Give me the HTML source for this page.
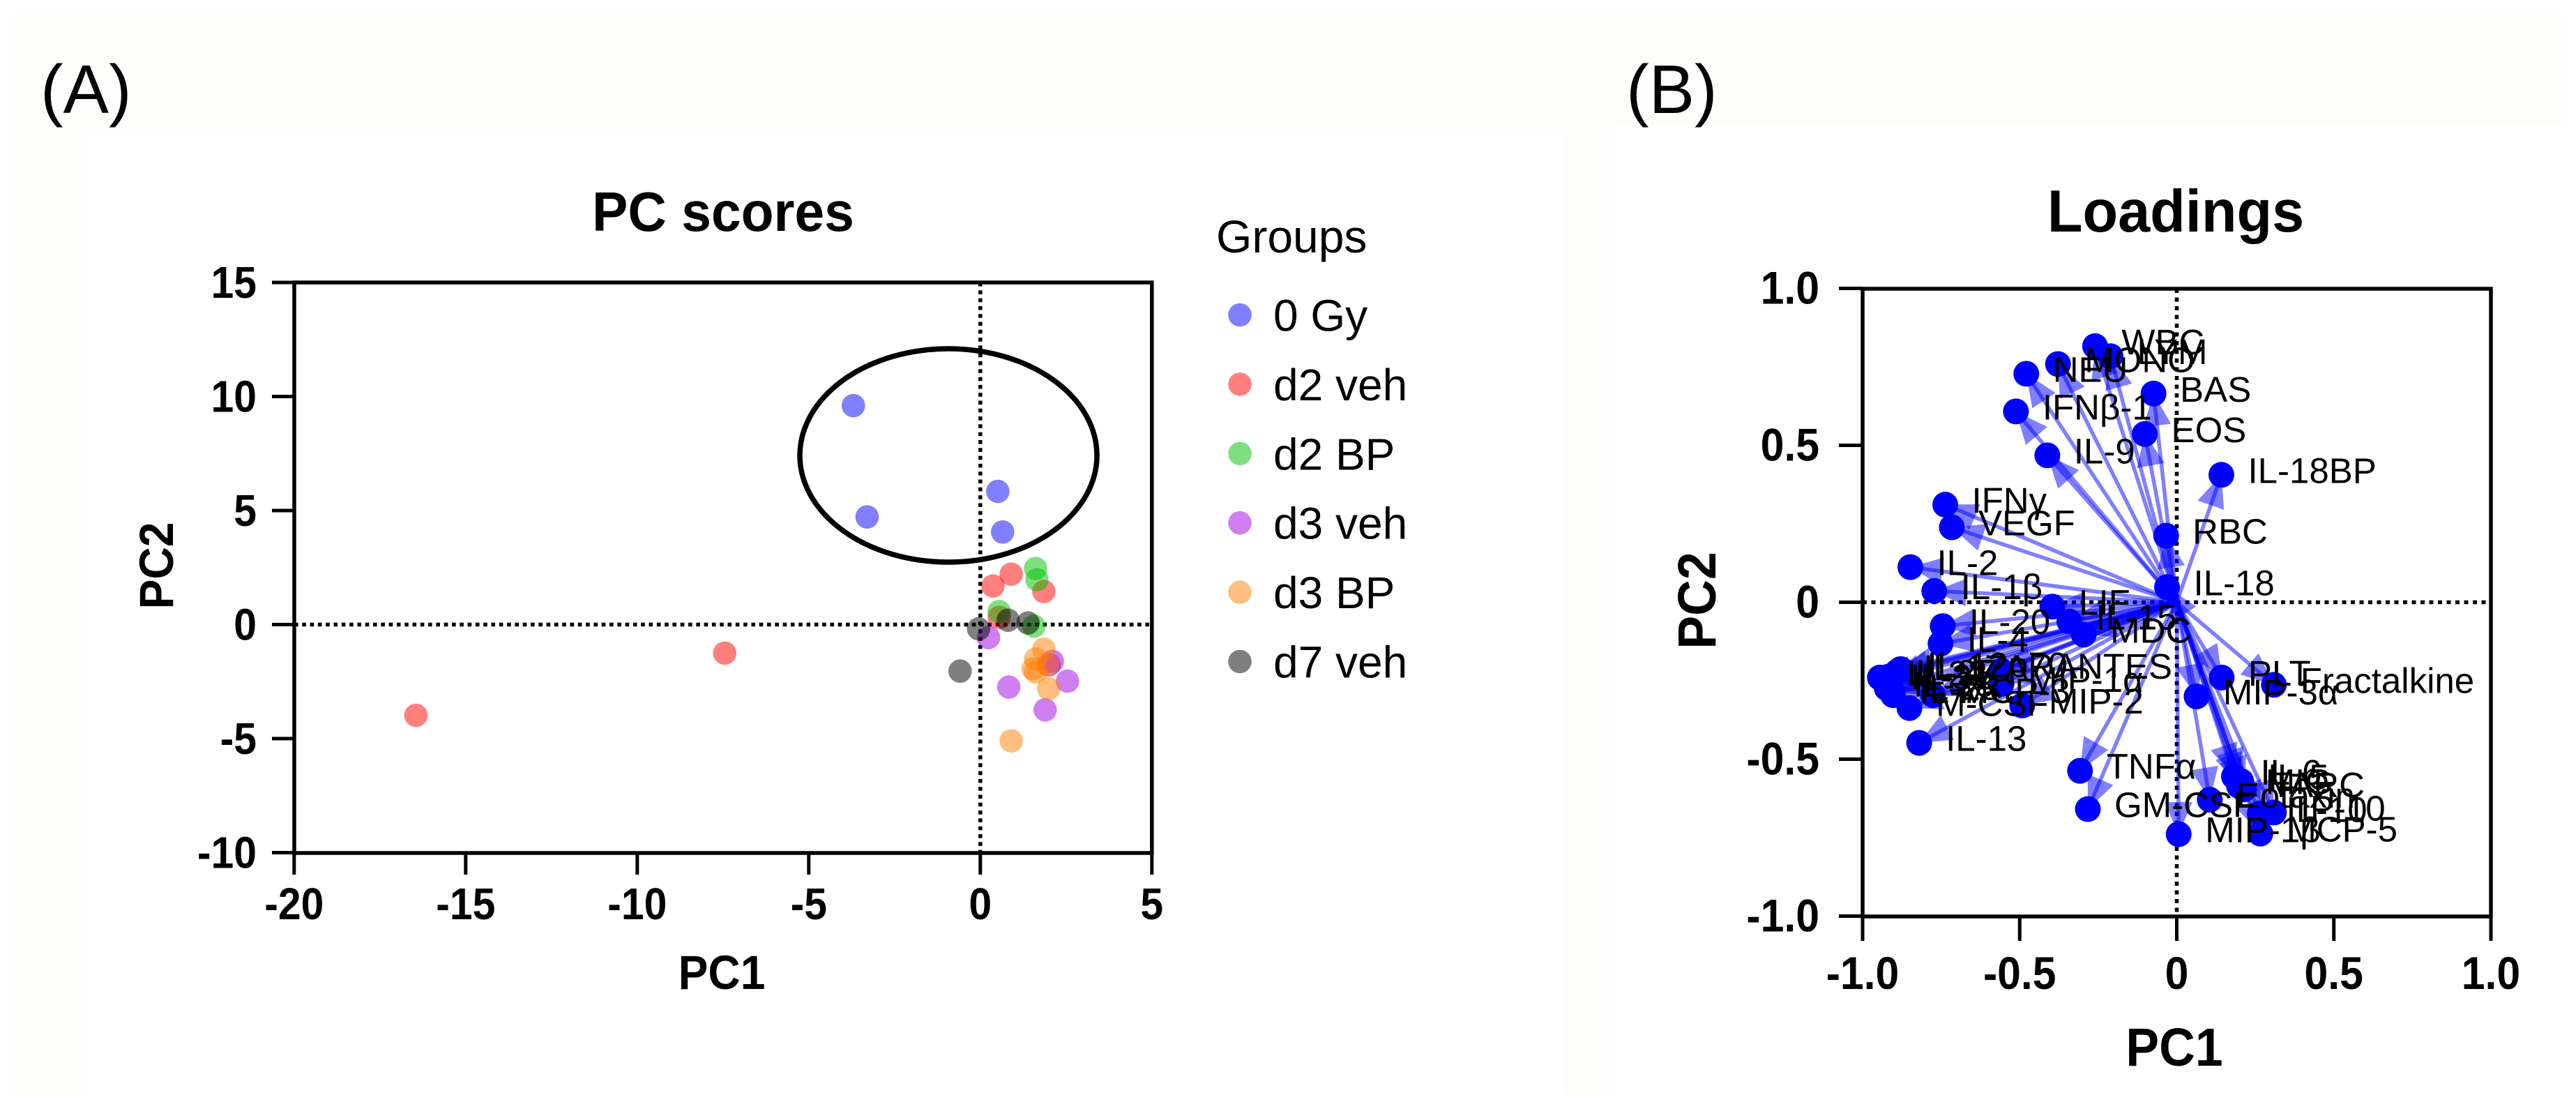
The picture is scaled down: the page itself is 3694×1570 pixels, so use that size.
<!DOCTYPE html>
<html lang="en">
<head>
<meta charset="utf-8">
<title>PC scores and loadings</title>
<style>
html,body{margin:0;padding:0;background:#fff;}
svg{display:block;font-family:"Liberation Sans",Arial,sans-serif;}
</style>
</head>
<body>
<svg id="figure" xmlns="http://www.w3.org/2000/svg" width="3694" height="1570" viewBox="0 0 3694 1570">
  <rect x="0" y="0" width="3694" height="1570" fill="#ffffff"/>
  <rect x="18" y="20" width="3664" height="1550" fill="#fdfdfb"/>
  <rect x="118" y="194" width="2124" height="1376" fill="#ffffff"/>
  <rect x="2310" y="181" width="1372" height="1389" fill="#ffffff"/>

  <text x="58" y="162" font-size="98">(A)</text>
  <text x="2332" y="162" font-size="98">(B)</text>

  <text transform="translate(1037 331) scale(0.96 1)" font-size="80" font-weight="bold" text-anchor="middle">PC scores</text>
  <text transform="translate(1035 1418) scale(0.93 1)" font-size="69" font-weight="bold" text-anchor="middle">PC1</text>
  <text transform="translate(248 811) rotate(-90) scale(0.93 1)" font-size="69" font-weight="bold" text-anchor="middle">PC2</text>
  <text x="1744" y="362" font-size="66">Groups</text>

  <text transform="translate(3120 332) scale(0.975 1)" font-size="85" font-weight="bold" text-anchor="middle">Loadings</text>
  <text transform="translate(3118 1528) scale(0.93 1)" font-size="77" font-weight="bold" text-anchor="middle">PC1</text>
  <text transform="translate(2460 861) rotate(-90) scale(0.93 1)" font-size="77" font-weight="bold" text-anchor="middle">PC2</text>

  <g id="scores-plot"></g>
  <g id="legend"></g>
  <g id="loadings-plot"></g>
</svg>

<script>
// ---- PC scores data ----
const scoreXTicks = [-20, -15, -10, -5, 0, 5];
const scoreXTickLabels = ["-20", "-15", "-10", "-5", "0", "5"];
const scoreYTicks = [-10, -5, 0, 5, 10, 15];
const scoreYTickLabels = ["-10", "-5", "0", "5", "10", "15"];

const groupNames = ["0 Gy", "d2 veh", "d2 BP", "d3 veh", "d3 BP", "d7 veh"];
const groupColors = ["#0000ff", "#ff0000", "#00c000", "#a000e0", "#ff7d00", "#000000"];

const gy0PC1 = [-3.70, -3.30, 0.51, 0.65];
const gy0PC2 = [9.60, 4.72, 5.84, 4.06];
const d2vehPC1 = [0.90, 0.37, 1.85, 0.55, -7.45, -16.45];
const d2vehPC2 = [2.21, 1.69, 1.45, 0.32, -1.25, -3.98];
const d2bpPC1 = [1.61, 1.65, 0.55, 1.56];
const d2bpPC2 = [2.46, 1.97, 0.57, -0.07];
const d3vehPC1 = [0.24, 2.10, 2.01, 2.54, 0.83, 1.89];
const d3vehPC2 = [-0.57, -1.61, -1.77, -2.48, -2.74, -3.74];
const d3bpPC1 = [1.85, 1.61, 1.54, 1.61, 1.96, 1.99, 0.90];
const d3bpPC2 = [-1.08, -1.51, -1.94, -2.07, -1.77, -2.81, -5.10];
const d7vehPC1 = [-0.05, 0.81, 1.39, -0.59];
const d7vehPC2 = [-0.19, 0.19, 0.07, -2.04];

const groupPC1 = [gy0PC1, d2vehPC1, d2bpPC1, d3vehPC1, d3bpPC1, d7vehPC1];
const groupPC2 = [gy0PC2, d2vehPC2, d2bpPC2, d3vehPC2, d3bpPC2, d7vehPC2];

// ---- Loadings data ----
const loadingTicks = [-1, -0.5, 0, 0.5, 1];
const loadingTickLabels = ["-1.0", "-0.5", "0", "0.5", "1.0"];

const loadingNames = [
  "WBC", "LYM", "MONO", "NEU", "IFNβ-1", "BAS", "EOS", "IL-9", "IL-18BP", "IFNγ", "VEGF", "RBC", "IL-2", "IL-18", "IL-1β",
  "LIF", "IL-15", "MDC", "IL-20", "IL-4",
  "IL-12p70", "IL-17A", "IL-27", "IL-22", "IL-31", "IL-23", "IL-28", "IL-7", "MCP-3", "M-CSF", "MIP-2", "IL-13", "RANTES", "MIP-1α",
  "PLT", "Fractalkine", "MIP-3α", "TNFα", "GM-CSF", "MIP-1β", "Eotaxin", "IL-6", "TARC", "IL-5", "MIG", "IL-10", "IP-10", "MCP-5"
];
const loadingPC1 = [
  -0.260, -0.211, -0.378, -0.479, -0.512, -0.074, -0.102, -0.412, 0.142, -0.737, -0.716, -0.034, -0.848, -0.031, -0.772,
  -0.396, -0.342, -0.296, -0.745, -0.752,
  -0.879, -0.891, -0.917, -0.945, -0.932, -0.905, -0.923, -0.903, -0.776, -0.851, -0.492, -0.820, -0.558, -0.558,
  0.143, 0.309, 0.063, -0.308, -0.283, 0.006, 0.105, 0.182, 0.214, 0.205, 0.198, 0.264, 0.309, 0.266
];
const loadingPC2 = [
  0.816, 0.784, 0.759, 0.728, 0.608, 0.665, 0.536, 0.468, 0.406, 0.311, 0.239, 0.212, 0.112, 0.048, 0.036,
  -0.014, -0.061, -0.103, -0.076, -0.132,
  -0.213, -0.222, -0.237, -0.240, -0.252, -0.285, -0.274, -0.296, -0.296, -0.337, -0.329, -0.448, -0.218, -0.260,
  -0.240, -0.263, -0.300, -0.537, -0.659, -0.739, -0.629, -0.555, -0.596, -0.570, -0.585, -0.674, -0.670, -0.737
];

// ---- Helpers and axis functions ----
const NS = "http://www.w3.org/2000/svg";
function make(parent, tag, props, text) {
  const el = document.createElementNS(NS, tag);
  for (const k in props) el.setAttribute(k, props[k]);
  if (text !== undefined) el.textContent = text;
  parent.appendChild(el);
  return el;
}
const scoreX = v => 1405.8 + v * 49.2;
const scoreY = v => 895.5 - v * 32.7;
const loadX = v => 3121.5 + v * 450.5;
const loadY = v => 863.5 - v * 450;

function drawFrame(g, left, right, top, bottom, x0, y0, dots, name) {
  const vDot = make(g, "line", {x1: x0, x2: x0, y1: top, y2: bottom, stroke: "#000", "stroke-width": 5.5, "stroke-dasharray": dots});
  
  
  const hDot = make(g, "line", {x1: left, x2: right, y1: y0, y2: y0, stroke: "#000", "stroke-width": 5.5, "stroke-dasharray": dots});
  
  
  const frame = make(g, "rect", {x: left, y: top, width: right - left, height: bottom - top, fill: "none", stroke: "#000", "stroke-width": 5.5});
  
  
}

function drawXTicks(g, ticks, labels, sx, bottom, len, baseline, size, name) {
  ticks.forEach((t, i) => {
    const tick = make(g, "line", {x1: sx(t), x2: sx(t), y1: bottom, y2: bottom + len, stroke: "#000", "stroke-width": 5});
    
    
    const lab = make(g, "text", {transform: "translate(" + sx(t) + " " + baseline + ") scale(0.92 1)", "font-size": size, "font-weight": "bold", "text-anchor": "middle"}, labels[i]);
    
    
  });
}

function drawYTicks(g, ticks, labels, sy, left, len, labelRight, size, name) {
  ticks.forEach((t, i) => {
    const tick = make(g, "line", {x1: left - len, x2: left, y1: sy(t), y2: sy(t), stroke: "#000", "stroke-width": 5});
    
    
    const lab = make(g, "text", {transform: "translate(" + labelRight + " " + (sy(t) + 22) + ") scale(0.92 1)", "font-size": size, "font-weight": "bold", "text-anchor": "end"}, labels[i]);
    
    
  });
}

// ---- Scores panel ----
const scores = document.getElementById("scores-plot");
drawFrame(scores, 422, 1651.8, 405, 1223, scoreX(0), scoreY(0), "5.6 5.7", "scores");
drawXTicks(scores, scoreXTicks, scoreXTickLabels, scoreX, 1223, 31, 1318, 64, "scores");
drawYTicks(scores, scoreYTicks, scoreYTickLabels, scoreY, 422, 32, 368, 64, "scores");

const circleNote = make(scores, "ellipse", {cx: 1360, cy: 653, rx: 213, ry: 153, fill: "none", stroke: "#000", "stroke-width": 7.5});



groupNames.forEach((groupName, g) => {
  groupPC1[g].forEach((px, i) => {
    const pt = make(scores, "circle", {cx: scoreX(px), cy: scoreY(groupPC2[g][i]), r: 16.8, fill: groupColors[g], "fill-opacity": 0.5});
    
    
  });
});

const legend = document.getElementById("legend");
groupNames.forEach((groupName, g) => {
  const rowY = 451.5 + g * 99.4;
  const marker = make(legend, "circle", {cx: 1778, cy: rowY, r: 16.8, fill: groupColors[g], "fill-opacity": 0.5});
  
  
  const entry = make(legend, "text", {x: 1826, y: rowY + 23, "font-size": 64}, groupName);
  
  
});

// ---- Loadings panel ----
const loads = document.getElementById("loadings-plot");
drawFrame(loads, 2671, 3572, 414, 1314, loadX(0), loadY(0), "6 6.5", "loadings");
drawXTicks(loads, loadingTicks, loadingTickLabels, loadX, 1314, 35, 1418, 66, "loadings");
drawYTicks(loads, loadingTicks, loadingTickLabels, loadY, 2671, 34, 2609, 66, "loadings");

loadingNames.forEach((label, i) => {
  const x1 = loadX(0), y1 = loadY(0), x2 = loadX(loadingPC1[i]), y2 = loadY(loadingPC2[i]);
  const dx = x2 - x1, dy = y2 - y1, d = Math.hypot(dx, dy) || 1;
  const ux = dx / d, uy = dy / d;
  const shaft = make(loads, "line", {x1: x1, y1: y1, x2: x2, y2: y2, stroke: "#0000ff", "stroke-opacity": 0.5, "stroke-width": 5.5});
  
  
  const bx = x2 - ux * 46, by = y2 - uy * 46;
  const head = make(loads, "polygon", {
    points: x2 + "," + y2 + " " + (bx - uy * 20) + "," + (by + ux * 20) + " " + (bx + uy * 20) + "," + (by - ux * 20),
    fill: "#0000ff", "fill-opacity": 0.5
  });
  
  
});

loadingNames.forEach((label, i) => {
  const dot = make(loads, "circle", {cx: loadX(loadingPC1[i]), cy: loadY(loadingPC2[i]), r: 18.5, fill: "#0000ff"});
  
  
});

loadingNames.forEach((label, i) => {
  const text = make(loads, "text", {x: loadX(loadingPC1[i]) + 38, y: loadY(loadingPC2[i]) + 11.5, "font-size": 51}, label);
  
  
});
</script>
</body>
</html>
